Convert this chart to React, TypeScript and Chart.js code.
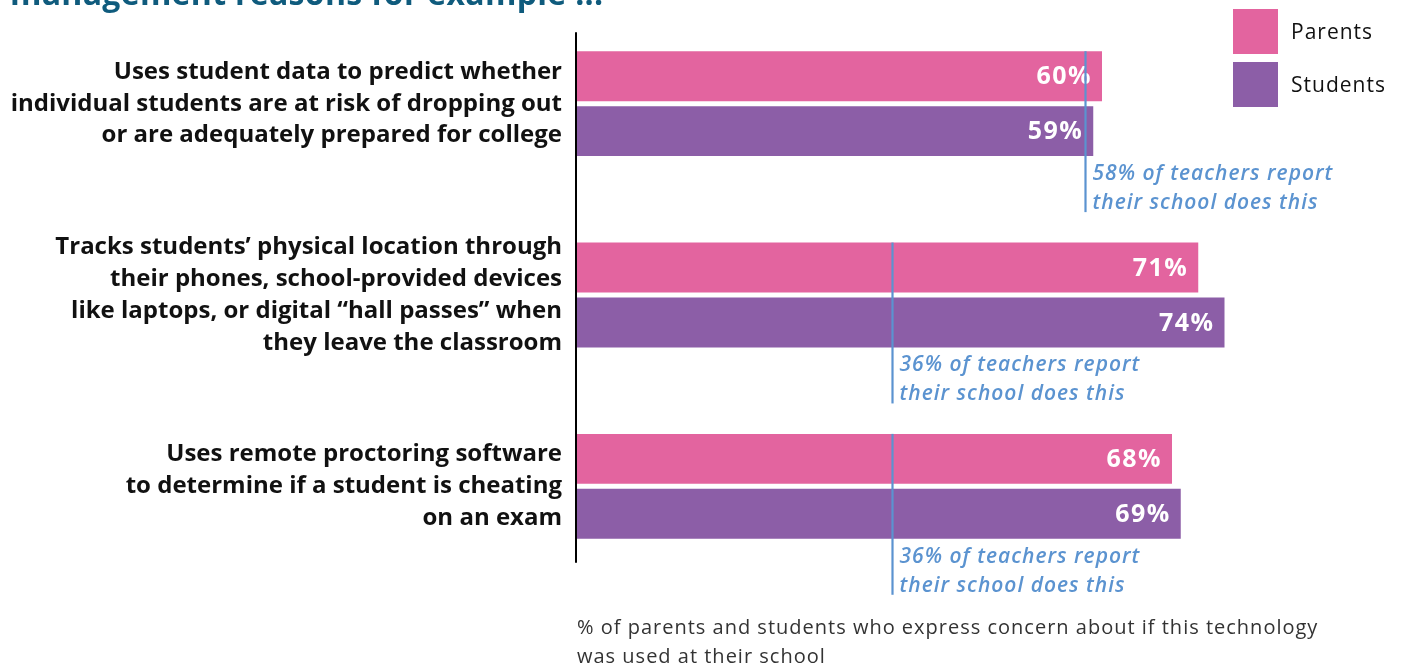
import React, { useEffect, useRef } from "react";
import { Chart, registerables } from "chart.js";

Chart.register(...registerables);

const titleText = "management reasons for example ...";
const categories: string[][] = [
  ["Uses student data to predict whether", "individual students are at risk of dropping out", "or are adequately prepared for college"],
  ["Tracks students’ physical location through", "their phones, school-provided devices", "like laptops, or digital “hall passes” when", "they leave the classroom"],
  ["Uses remote proctoring software", "to determine if a student is cheating", "on an exam"],
];
const seriesNames = ["Parents", "Students"];
const seriesColors = ["#E3649F", "#8C5EA7"];
const parentsValues = [60, 71, 68];
const studentsValues = [59, 74, 69];
const teacherValues = [58, 36, 36];
const teacherNotes: string[][] = [
  ["58% of teachers report", "their school does this"],
  ["36% of teachers report", "their school does this"],
  ["36% of teachers report", "their school does this"],
];
const axisNote = [
  "% of parents and students who express concern about if this technology",
  "was used at their school",
];

const FONT = "'Open Sans', Lato, sans-serif";
const TEACHER_COLOR = "#5B93D0";

const overlayPlugin = {
  id: "overlay",
  afterDatasetsDraw(chart: any) {
    const ctx = chart.ctx;
    const xScale = chart.scales.x;
    const metaP = chart.getDatasetMeta(0);
    const metaS = chart.getDatasetMeta(1);
    ctx.save();
    // value labels
    chart.data.datasets.forEach((ds: any, di: number) => {
      const meta = chart.getDatasetMeta(di);
      meta.data.forEach((bar: any, i: number) => {
        ctx.fillStyle = "#ffffff";
        ctx.font = `bold 25px ${FONT}`;
        (ctx as any).letterSpacing = "1.5px";
        ctx.textAlign = "right";
        ctx.textBaseline = "middle";
        ctx.fillText(ds.data[i] + "%", bar.x - 10, bar.y + 1);
      });
    });
    (ctx as any).letterSpacing = "0px";
    // axis line
    const firstTop = metaP.data[0].y - metaP.data[0].height / 2;
    const lastS = metaS.data[metaS.data.length - 1];
    const lastBottom = lastS.y + lastS.height / 2;
    ctx.strokeStyle = "#000000";
    ctx.lineWidth = 2;
    ctx.beginPath();
    ctx.moveTo(chart.chartArea.left - 1, firstTop - 19);
    ctx.lineTo(chart.chartArea.left - 1, lastBottom + 24);
    ctx.stroke();
    // teacher reference lines
    teacherValues.forEach((v, i) => {
      const x = Math.round(xScale.getPixelForValue(v)) + 0.5;
      const pBar = metaP.data[i];
      const sBar = metaS.data[i];
      const top = pBar.y - pBar.height / 2;
      const bottom = sBar.y + sBar.height / 2;
      ctx.strokeStyle = TEACHER_COLOR;
      ctx.lineWidth = 2.2;
      ctx.beginPath();
      ctx.moveTo(x, top);
      ctx.lineTo(x, bottom + 56);
      ctx.stroke();
      ctx.fillStyle = TEACHER_COLOR;
      ctx.font = `italic 600 21px ${FONT}`;
      (ctx as any).letterSpacing = "1px";
      ctx.textAlign = "left";
      ctx.textBaseline = "middle";
      teacherNotes[i].forEach((line, li) => {
        ctx.fillText(line, x + 7, bottom + 18 + li * 29);
      });
    });
    // legend
    seriesNames.forEach((name, i) => {
      const y0 = 9 + i * 53;
      ctx.fillStyle = seriesColors[i];
      ctx.fillRect(1233, y0, 45, 45);
      ctx.fillStyle = "#111111";
      ctx.font = `21px ${FONT}`;
      (ctx as any).letterSpacing = "1px";
      ctx.textAlign = "left";
      ctx.textBaseline = "middle";
      ctx.fillText(name, 1291, y0 + 24);
    });
    // bottom note
    ctx.fillStyle = "#333333";
    ctx.font = `20px ${FONT}`;
    (ctx as any).letterSpacing = "1px";
    ctx.textAlign = "left";
    ctx.textBaseline = "middle";
    axisNote.forEach((line, li) => {
      ctx.fillText(line, chart.chartArea.left, 628 + li * 29);
    });
    // cut-off title
    ctx.fillStyle = "#0F5B7D";
    ctx.font = `bold 32px ${FONT}`;
    (ctx as any).letterSpacing = "0.3px";
    ctx.textBaseline = "alphabetic";
    ctx.fillText(titleText, 10, 5);
    (ctx as any).letterSpacing = "0px";
    ctx.restore();
  },
};

export default function App() {
  const ref = useRef<HTMLCanvasElement | null>(null);
  useEffect(() => {
    if (!ref.current) return;
    const chart = new Chart(ref.current, {
      type: "bar",
      data: {
        labels: categories,
        datasets: [
          { label: seriesNames[0], data: parentsValues, backgroundColor: seriesColors[0], categoryPercentage: 0.5744, barPercentage: 0.909 },
          { label: seriesNames[1], data: studentsValues, backgroundColor: seriesColors[1], categoryPercentage: 0.5744, barPercentage: 0.909 },
        ],
      },
      options: {
        indexAxis: "y",
        animation: false,
        responsive: true,
        maintainAspectRatio: false,
        layout: { padding: { top: 8, bottom: 85, left: 0, right: 125 } },
        plugins: { legend: { display: false }, tooltip: { enabled: false }, title: { display: false } },
        scales: {
          x: { display: false, min: 0, max: 80 },
          y: {
            afterFit: (scale: any) => {
              scale.width = 577;
              scale.paddingTop = 0;
              scale.paddingBottom = 0;
            },
            grid: { display: false, drawTicks: false },
            border: { display: false },
            ticks: {
              padding: 15,
              color: "#111111",
              font: { family: FONT, size: 24, weight: "bold", lineHeight: 1.33 },
            },
          },
        },
      },
      plugins: [overlayPlugin],
    });
    return () => chart.destroy();
  }, []);
  return (
    <div style={{ position: "absolute", left: 0, top: 0, width: 1402, height: 667, background: "#fff" }}>
      <canvas ref={ref} />
    </div>
  );
}
